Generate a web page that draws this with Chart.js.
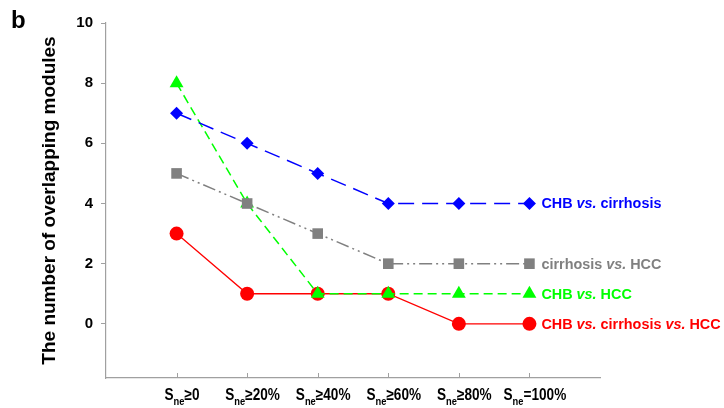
<!DOCTYPE html>
<html>
<head>
<meta charset="utf-8">
<script src="https://cdn.jsdelivr.net/npm/chart.js@4.4.1/dist/chart.umd.min.js"></script>
<style>
  html, body { margin: 0; padding: 0; background: #fff; }
  #wrap { width: 724px; height: 408px; position: relative; }
</style>
</head>
<body>
<div id="wrap"><canvas id="chart"></canvas></div>
<script>
// categories (main part after the "S" with subscript "ne")
const categories = ['≥0', '≥20%', '≥40%', '≥60%', '≥80%', '=100%'];
const yTicks = [0, 2, 4, 6, 8, 10];

const seriesNames = ['CHB vs. cirrhosis', 'cirrhosis vs. HCC', 'CHB vs. HCC', 'CHB vs. cirrhosis vs. HCC'];
const chbCirrhosis = [7, 6, 5, 4, 4, 4];
const cirrhosisHcc = [5, 4, 3, 2, 2, 2];
const chbHcc = [8, 4, 1, 1, 1, 1];
const allThree = [3, 1, 1, 1, 0, 0];

const FONT = '"Liberation Sans", Arial, sans-serif';
const AXIS = '#a0a0a0';

const toPoints = arr => arr.map((v, i) => ({ x: i, y: v }));

// x labels with subscript, inward x ticks, series labels at line ends, y title and panel letter
const annotate = {
    id: 'annotate',
    afterDraw(chart) {
        const ctx = chart.ctx;
        const xs = chart.scales.x, ys = chart.scales.y;
        const area = chart.chartArea;
        ctx.save();

        // x ticks pointing up
        ctx.strokeStyle = AXIS;
        ctx.lineWidth = 1;
        categories.forEach((c, i) => {
            const px = Math.round(xs.getPixelForValue(i)) + 0.5;
            ctx.beginPath();
            ctx.moveTo(px, area.bottom);
            ctx.lineTo(px, area.bottom - 5);
            ctx.stroke();
        });

        // x labels, narrow bold text
        ctx.fillStyle = '#000';
        ctx.textBaseline = 'alphabetic';
        ctx.textAlign = 'left';
        const base = area.bottom + 22;
        const sx = 0.85;
        categories.forEach((c, i) => {
            ctx.font = 'bold 16px ' + FONT;
            const wS = ctx.measureText('S').width;
            const wRest = ctx.measureText(c).width;
            ctx.font = 'bold 11px ' + FONT;
            const wSub = ctx.measureText('ne').width;
            const start = xs.getPixelForValue(i) - (wS + wRest) * sx / 2;
            ctx.save();
            ctx.translate(start, base);
            ctx.scale(sx, 1);
            ctx.font = 'bold 16px ' + FONT;
            ctx.fillText('S', 0, 0);
            ctx.font = 'bold 11px ' + FONT;
            ctx.fillText('ne', wS, 5);
            ctx.font = 'bold 16px ' + FONT;
            ctx.fillText(c, wS + wSub, 0);
            ctx.restore();
        });

        // series labels at the end of each line
        chart.data.datasets.forEach(ds => {
            const last = ds.data[ds.data.length - 1];
            let x = xs.getPixelForValue(last.x) + 12;
            const y = ys.getPixelForValue(last.y);
            ctx.fillStyle = ds.borderColor;
            ctx.textBaseline = 'middle';
            ds.label.split(/(vs\.)/).forEach(part => {
                if (!part) return;
                ctx.font = (part === 'vs.' ? 'italic bold 14.4px ' : 'bold 14.4px ') + FONT;
                ctx.fillText(part, x, y + 1);
                x += ctx.measureText(part).width;
            });
        });

        // y title
        ctx.fillStyle = '#000';
        ctx.font = 'bold 19px ' + FONT;
        ctx.textAlign = 'center';
        ctx.textBaseline = 'middle';
        ctx.translate(50, (area.top + area.bottom) / 2);
        ctx.rotate(-Math.PI / 2);
        ctx.fillText('The number of overlapping modules', 0, 0);
        ctx.restore();

        ctx.save();
        ctx.fillStyle = '#000';
        ctx.font = 'bold 24px ' + FONT;
        ctx.textBaseline = 'alphabetic';
        ctx.fillText('b', 11, 28);
        ctx.restore();
    }
};

new Chart(document.getElementById('chart'), {
    type: 'line',
    data: {
        datasets: [
            {
                label: seriesNames[0],
                data: toPoints(chbCirrhosis),
                borderColor: '#0000ff',
                backgroundColor: '#0000ff',
                borderWidth: 1.5,
                borderDash: [16, 8],
                pointStyle: 'rectRot',
                pointRadius: 6.5,
                pointBorderWidth: 0
            },
            {
                label: seriesNames[1],
                data: toPoints(cirrhosisHcc),
                borderColor: '#808080',
                backgroundColor: '#808080',
                borderWidth: 1.5,
                borderDash: [13, 4, 2, 4, 2, 4],
                pointStyle: 'rect',
                pointRadius: 7.5,
                pointBorderWidth: 0
            },
            {
                label: seriesNames[2],
                data: toPoints(chbHcc),
                borderColor: '#00ff00',
                backgroundColor: '#00ff00',
                borderWidth: 1.5,
                borderDash: [9, 5],
                pointStyle: 'triangle',
                pointRadius: 8,
                pointBorderWidth: 0
            },
            {
                label: seriesNames[3],
                data: toPoints(allThree),
                borderColor: '#ff0000',
                backgroundColor: '#ff0000',
                borderWidth: 1.3,
                pointStyle: 'circle',
                pointRadius: 7,
                pointBorderWidth: 0
            }
        ]
    },
    options: {
        responsive: true,
        maintainAspectRatio: false,
        animation: false,
        clip: false,
        layout: { padding: { top: 23, right: 124, left: 0, bottom: 0 } },
        plugins: { legend: { display: false }, tooltip: { enabled: false } },
        elements: { line: { tension: 0 } },
        scales: {
            x: {
                type: 'linear',
                min: -1,
                max: 6,
                ticks: { display: false },
                grid: { display: false },
                border: { display: true, color: AXIS, width: 1.2 },
                afterFit: s => { s.height = 30; }
            },
            y: {
                min: -1.8,
                max: 10,
                afterBuildTicks: s => { s.ticks = yTicks.map(v => ({ value: v })); },
                ticks: {
                    color: '#000',
                    padding: 8,
                    font: { family: FONT, size: 15, weight: 'bold' }
                },
                grid: { drawOnChartArea: false, drawTicks: true, tickLength: 5, color: AXIS },
                border: { display: true, color: AXIS, width: 1.2 },
                afterFit: s => { s.width = 106; }
            }
        }
    },
    plugins: [annotate]
});
</script>
</body>
</html>
